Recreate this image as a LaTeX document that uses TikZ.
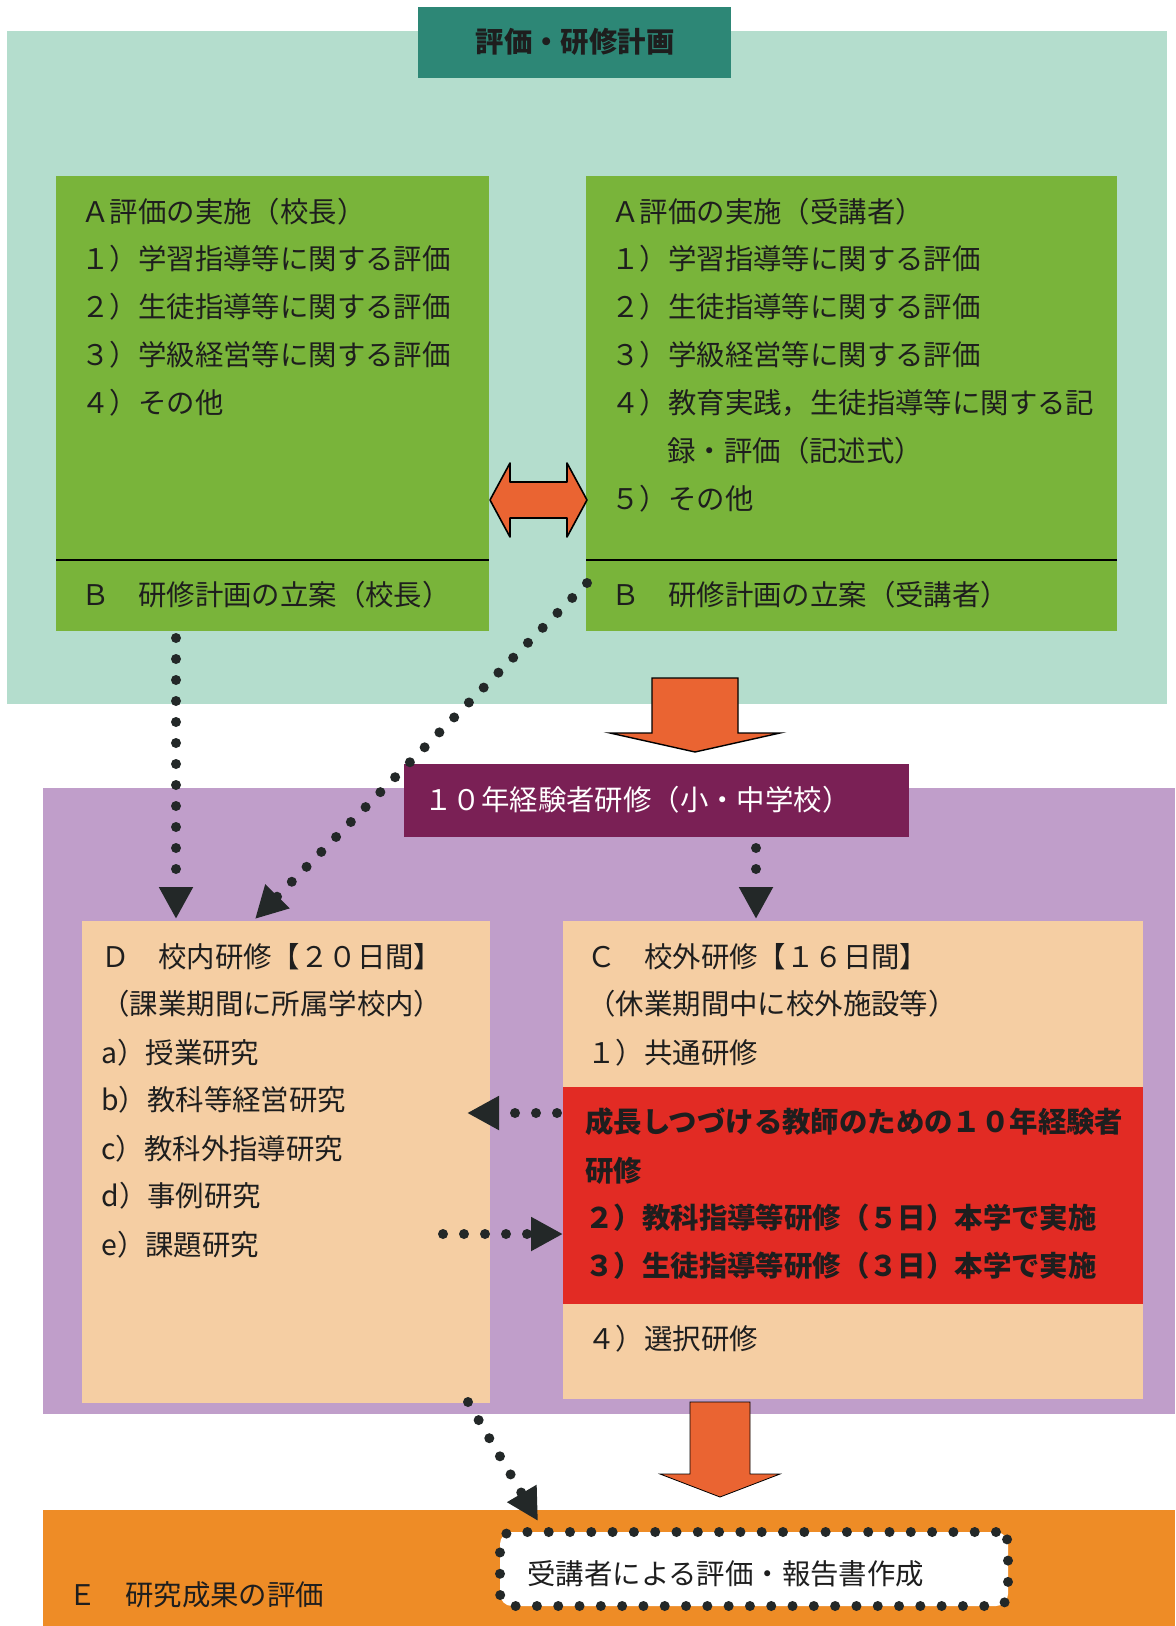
\documentclass[tikz,border=0pt]{standalone}
\usepackage{fontspec}
\newfontfamily\jp{Noto Sans CJK JP}
\usetikzlibrary{arrows.meta,fit}
\definecolor{tealbg}{RGB}{180,221,205}
\definecolor{tealtitle}{RGB}{45,135,118}
\definecolor{greenbox}{RGB}{121,180,58}
\definecolor{purplebg}{RGB}{192,158,202}
\definecolor{purpletitle}{RGB}{122,32,85}
\definecolor{peach}{RGB}{245,206,163}
\definecolor{redband}{RGB}{226,43,36}
\definecolor{orangearrow}{RGB}{234,100,50}
\definecolor{orangeband}{RGB}{238,140,38}
\definecolor{dotc}{RGB}{35,40,40}
\definecolor{ink}{RGB}{30,30,30}
\begin{document}
\begin{tikzpicture}[x=0.5pt,y=-0.5pt,
  bg/.style={inner sep=0pt, outer sep=0pt, draw=none},
  jt/.style={anchor=west, inner sep=0pt, font=\jp\fontsize{14.2pt}{17pt}\selectfont, text=ink, text height=12.5pt, text depth=1.7pt},
  jb/.style={jt, font=\jp\bfseries\fontsize{14.2pt}{17pt}\selectfont},
  dotline/.style={draw=dotc, line width=5pt, dash pattern=on 0pt off 10.5pt, line cap=round, -{Triangle[length=16pt,width=16pt]}},
  bigarrow/.style={fill=orangearrow}
]
\useasboundingbox (0,0) rectangle (1175,1626);
\fill[white] (0,0) rectangle (1175,1626);

% ---------- top section ----------
\node[bg, fill=tealbg, fit={(7,31)(1167,704)}] (tealband) {};
\node[bg, fill=tealtitle, fit={(418,7)(731,78)}] (ttitle) {};
\node[jb, anchor=center] (ttitletext) at (575,42) {評価・研修計画};

\node[bg, fill=greenbox, fit={(56,176)(489,631)}] (gL) {};
\node[bg, fill=greenbox, fit={(586,176)(1117,631)}] (gR) {};
\draw[line width=1.2pt, black] (gL.west |- 0,560) -- (gL.east |- 0,560);
\draw[line width=1.2pt, black] (gR.west |- 0,560) -- (gR.east |- 0,560);

\node[jt] (l1) at (81,212) {Ａ評価の実施（校長）};
\node[jt] (l2) at (81,259) {１）学習指導等に関する評価};
\node[jt] (l3) at (81,307) {２）生徒指導等に関する評価};
\node[jt] (l4) at (81,355) {３）学級経営等に関する評価};
\node[jt] (l5) at (81,403) {４）その他};
\node[jt] (lB) at (81,595) {Ｂ　研修計画の立案（校長）};

\node[jt] (r1) at (611,212) {Ａ評価の実施（受講者）};
\node[jt] (r2) at (611,259) {１）学習指導等に関する評価};
\node[jt] (r3) at (611,307) {２）生徒指導等に関する評価};
\node[jt] (r4) at (611,355) {３）学級経営等に関する評価};
\node[jt] (r5) at (611,403) {４）教育実践，生徒指導等に関する記};
\node[jt] (r6) at (667,451) {録・評価（記述式）};
\node[jt] (r7) at (611,499) {５）その他};
\node[jt] (rB) at (611,595) {Ｂ　研修計画の立案（受講者）};

% double arrow
\draw[fill=orangearrow, draw=black, line width=0.8pt, line join=round]
  (490,500) -- (510,463) -- (510,482) -- (567,482) -- (567,463) -- (587,500)
  -- (567,537) -- (567,518) -- (510,518) -- (510,537) -- cycle;

% ---------- middle section ----------
\node[bg, fill=purplebg, fit={(43,788)(1175,1414)}] (pband) {};
\draw[fill=orangearrow, draw=black, line width=0.7pt]
  (652,678) -- (738,678) -- (738,733) -- (780,733) -- (695,752) -- (610,733) -- (652,733) -- cycle;
\node[bg, fill=purpletitle, fit={(404,764)(909,837)}] (ptitle) {};
\node[jt, text=white] (ptitletext) at (424,800) {１０年経験者研修（小・中学校）};

\node[bg, fill=peach, fit={(82,921)(490,1403)}] (Dbox) {};
\node[bg, fill=peach, fit={(563,921)(1143,1399)}] (Cbox) {};
\node[bg, fill=redband, fit={(563,1087)(1143,1304)}] (Rband) {};

\node[jt] (d1) at (101,957) {Ｄ　校内研修【２０日間】};
\node[jt] (d2) at (101,1004) {（課業期間に所属学校内）};
\node[jt] (d3) at (101,1053) {a）授業研究};
\node[jt] (d4) at (101,1100) {b）教科等経営研究};
\node[jt] (d5) at (101,1149) {c）教科外指導研究};
\node[jt] (d6) at (101,1196) {d）事例研究};
\node[jt] (d7) at (101,1245) {e）課題研究};

\node[jt] (c1) at (587,957) {Ｃ　校外研修【１６日間】};
\node[jt] (c2) at (587,1004) {（休業期間中に校外施設等）};
\node[jt] (c3) at (587,1053) {１）共通研修};
\node[jb] (c4) at (585,1122) {成長しつづける教師のための１０年経験者};
\node[jb] (c5) at (585,1171) {研修};
\node[jb] (c6) at (585,1218) {２）教科指導等研修（５日）本学で実施};
\node[jb] (c7) at (585,1266) {３）生徒指導等研修（３日）本学で実施};
\node[jt] (c8) at (587,1339) {４）選択研修};

% ---------- bottom section ----------
\draw[bigarrow]
  (690,1402) -- (750,1402) -- (750,1474) -- (780,1474) -- (720,1497) -- (660,1474) -- (690,1474) -- cycle;
\node[bg, fill=orangeband, fit={(43,1510)(1175,1626)}] (oband) {};
\node[jt] (e1) at (68,1595) {Ｅ　研究成果の評価};
\node[fit={(500,1532)(1008,1606)}, inner sep=0pt, fill=white, draw=dotc, line width=5pt, dash pattern=on 0pt off 10.65pt, line cap=round, rounded corners=6pt] (Ebox) {};
\node[jt] (etext) at (527,1574) {受講者による評価・報告書作成};

% ---------- dotted connectors ----------
\coordinate (s1) at (176,638);   \coordinate (t1) at (176,919);
\coordinate (s2) at (587,583);   \coordinate (t2) at (255,919);
\coordinate (s3) at (756,848);   \coordinate (t3) at (756,919);
\coordinate (s4) at (557,1113);  \coordinate (t4) at (467,1113);
\coordinate (s5) at (443,1234);  \coordinate (t5) at (563,1234);
\coordinate (s6) at (468,1402);  \coordinate (t6) at (538,1521);
\draw[dotline] (s1) -- (t1);
\draw[dotline] (s2) -- (t2);
\draw[dotline] (s3) -- (t3);
\draw[dotline] (s4) -- (t4);
\draw[dotline] (s5) -- (t5);
\draw[dotline] (s6) -- (t6);
\end{tikzpicture}
\end{document}
